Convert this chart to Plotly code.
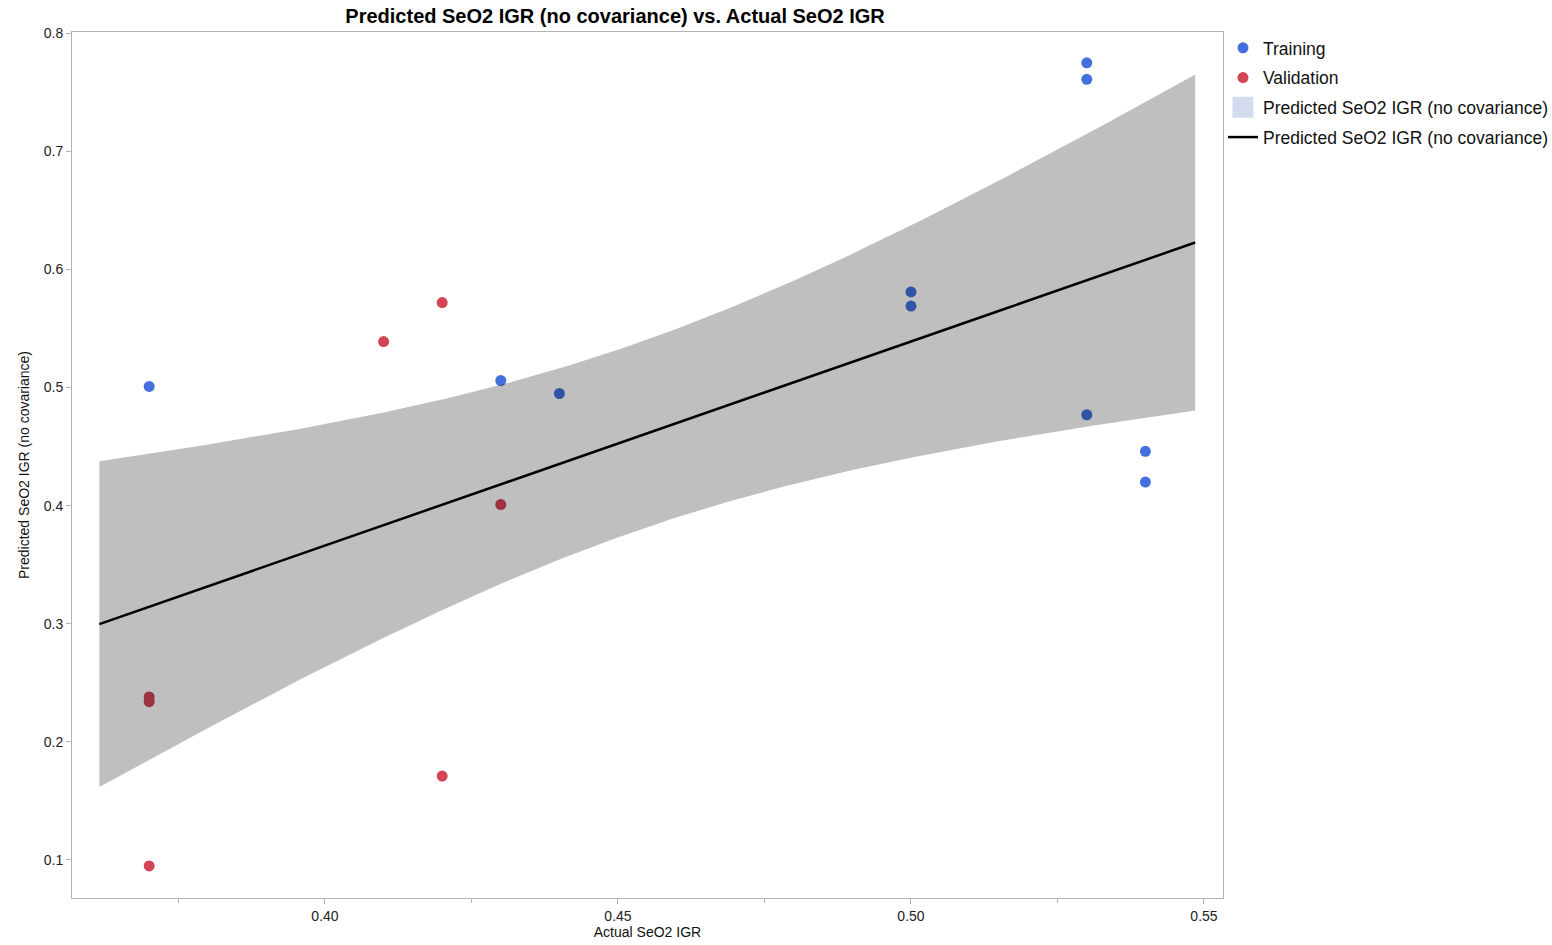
import numpy as np
import plotly.graph_objects as go

# Actual vs. predicted SeO2 IGR, split by training / validation rows
train_actual = [0.37, 0.43, 0.44, 0.50, 0.50, 0.53, 0.53, 0.53, 0.54, 0.54]
train_pred = [0.501, 0.506, 0.495, 0.581, 0.569, 0.775, 0.761, 0.477, 0.446, 0.420]

valid_actual = [0.37, 0.37, 0.37, 0.41, 0.42, 0.42, 0.43]
valid_pred = [0.238, 0.234, 0.095, 0.539, 0.572, 0.171, 0.401]

x_ticks = [0.40, 0.45, 0.50, 0.55]
x_tick_text = ["0.40", "0.45", "0.50", "0.55"]
y_ticks = [0.1, 0.2, 0.3, 0.4, 0.5, 0.6, 0.7, 0.8]
y_tick_text = ["0.1", "0.2", "0.3", "0.4", "0.5", "0.6", "0.7", "0.8"]

series_name = "Predicted SeO2 IGR (no covariance)"

# Least-squares line through all rows, with a 95% confidence band for the mean
xa = np.array(train_actual + valid_actual)
ya = np.array(train_pred + valid_pred)
n = len(xa)
slope, intercept = np.polyfit(xa, ya, 1)
resid = ya - (slope * xa + intercept)
s = np.sqrt(np.sum(resid ** 2) / (n - 2))
sxx = np.sum((xa - xa.mean()) ** 2)
t_crit = 2.1314  # t(0.975, df=15)

span = xa.max() - xa.min()
xf = np.linspace(xa.min() - 0.05 * span, xa.max() + 0.05 * span, 200)
yf = slope * xf + intercept
half = t_crit * s * np.sqrt(1.0 / n + (xf - xa.mean()) ** 2 / sxx)
upper = yf + half
lower = yf - half

BLUE = "#4370dd"
RED = "#d24555"
SWATCH = "#d3dcef"
FONT = "Liberation Sans, Arial, Helvetica, sans-serif"

fig = go.Figure()

fig.add_trace(go.Scatter(
    x=train_actual, y=train_pred, mode="markers", name="Training",
    legendgroup="train",
    marker=dict(color=BLUE, size=11, line=dict(width=0)),
))
fig.add_trace(go.Scatter(
    x=valid_actual, y=valid_pred, mode="markers", name="Validation",
    legendgroup="valid",
    marker=dict(color=RED, size=11, line=dict(width=0)),
))

# confidence band drawn over the points as a translucent shade
fig.add_trace(go.Scatter(
    x=np.concatenate([xf, xf[::-1]]), y=np.concatenate([upper, lower[::-1]]),
    mode="lines", fill="toself", fillcolor="rgba(0,0,0,0.25)",
    line=dict(width=0), hoverinfo="skip", showlegend=False,
))
# legend swatch for the band
fig.add_trace(go.Scatter(
    x=[None], y=[None], mode="markers", name=series_name,
    legendgroup="band",
    marker=dict(symbol="square", size=16, color=SWATCH,
                line=dict(width=5, color=SWATCH)),
))
fig.add_trace(go.Scatter(
    x=xf, y=yf, mode="lines", name=series_name, legendgroup="fit",
    line=dict(color="black", width=2.5),
))

axis_common = dict(
    showgrid=False, zeroline=False, showline=True, linecolor="#b4b4b4",
    linewidth=1, mirror=True, ticks="outside", ticklen=5, tickcolor="#b4b4b4",
    tickfont=dict(family=FONT, size=14, color="#222"), automargin=False,
)

fig.update_layout(
    width=1552, height=945,
    margin=dict(l=72, r=329, t=32, b=47),
    paper_bgcolor="white", plot_bgcolor="white",
    font=dict(family=FONT, color="#111"),
    title=dict(
        text="<b>Predicted SeO2 IGR (no covariance) vs. Actual SeO2 IGR</b>",
        x=0.3963, xanchor="center", y=0.983, yanchor="middle",
        font=dict(family=FONT, size=20, color="black"),
    ),
    xaxis=dict(
        range=[0.35683, 0.55324], tickvals=x_ticks, ticktext=x_tick_text,
        minor=dict(dtick=0.025, tick0=0.375, ticks="outside", ticklen=4,
                   tickcolor="#b4b4b4", showgrid=False),
        title=dict(text="Actual SeO2 IGR", standoff=4,
                   font=dict(family=FONT, size=14, color="#111")),
        **axis_common,
    ),
    yaxis=dict(
        range=[0.0678, 0.8011], tickvals=y_ticks, ticktext=y_tick_text,
        title=dict(text=series_name, standoff=10,
                   font=dict(family=FONT, size=14, color="#111")),
        **axis_common,
    ),
    legend=dict(
        xref="container", yref="container",
        x=0.788, y=0.9683, xanchor="left", yanchor="top",
        font=dict(family=FONT, size=17.5, color="#111"),
        bgcolor="rgba(0,0,0,0)", itemwidth=30, tracegroupgap=4,
    ),
    showlegend=True,
)

fig.write_html("out.html")
